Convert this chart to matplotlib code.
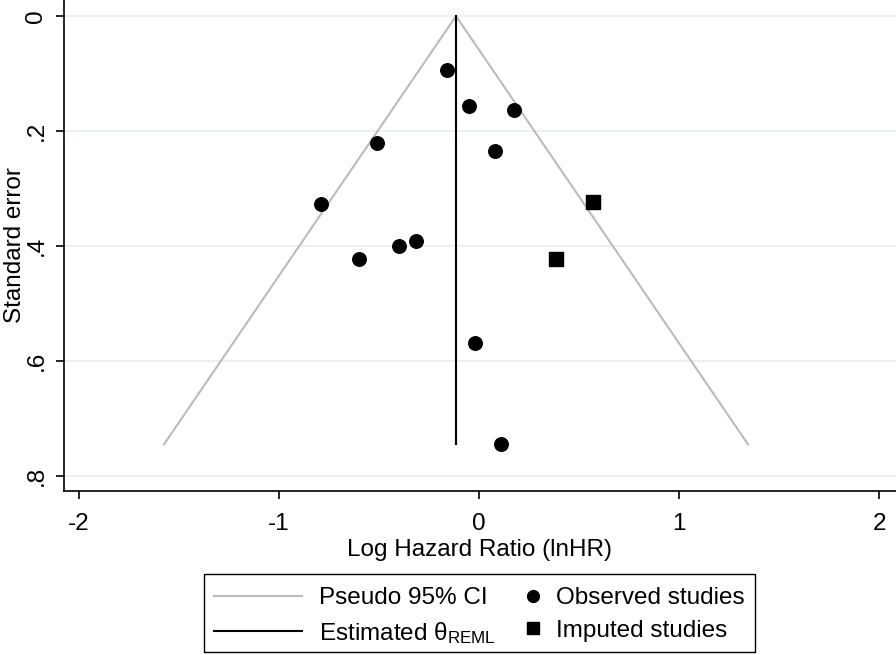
import matplotlib
matplotlib.use("Agg")
import matplotlib.pyplot as plt
from matplotlib.lines import Line2D
from matplotlib.patches import Rectangle
import numpy as np

plt.rcParams["font.family"] = ["Liberation Sans", "DejaVu Sans"]
plt.rcParams["mathtext.fontset"] = "custom"
plt.rcParams["mathtext.rm"] = "Liberation Sans"
plt.rcParams["mathtext.it"] = "Liberation Sans"

# observed studies (lnHR, standard error)
obs_lnhr = [-0.162, -0.05, 0.175, -0.512, 0.078, -0.788, -0.315, -0.40, -0.598, -0.02, 0.11]
obs_se = [0.093, 0.157, 0.163, 0.220, 0.235, 0.326, 0.391, 0.400, 0.422, 0.569, 0.744]

# imputed studies (trim and fill)
imp_lnhr = [0.57, 0.383]
imp_se = [0.3235, 0.422]

theta = -0.115
se_max = 0.745

FS = 17.5
W, H = 896, 655

fig = plt.figure(figsize=(W / 100, H / 100), dpi=100)
ax = fig.add_axes([64 / W, 1 - 491 / H, 1 - 64 / W, 491 / H])

# pseudo 95% CI funnel
se_line = np.array([se_max, 0, se_max])
ci_x = theta + 1.96 * se_line * np.array([-1, 0, 1])
ax.plot(ci_x, se_line, color="#bbbbbb", lw=1.5, zorder=2)
ax.plot([theta, theta], [0, se_max], color="black", lw=1.5, zorder=3)

ax.scatter(obs_lnhr, obs_se, s=95, marker="o", color="black", zorder=4)
ax.scatter(imp_lnhr, imp_se, s=95, marker="s", color="black", zorder=4)

ax.set_xlim(-2.075, 2.085)
ax.set_ylim(0.826, -0.028)
ax.set_xticks([-2, -1, 0, 1, 2])
ax.set_xticklabels(["-2", "-1", "0", "1", "2"])
ax.set_yticks([0, 0.2, 0.4, 0.6, 0.8])
ax.set_yticklabels(["0", ".2", ".4", ".6", ".8"], rotation=90, va="center")
ax.grid(axis="y", color="#e6eff1", lw=1.2, zorder=0)
ax.set_axisbelow(True)

for side in ["top", "right"]:
    ax.spines[side].set_visible(False)
for side in ["left", "bottom"]:
    ax.spines[side].set_linewidth(1.2)
ax.tick_params(labelsize=FS, length=6, width=1.2, direction="out")
ax.tick_params(axis="x", pad=10)
ax.tick_params(axis="y", pad=6)

ax.set_xlabel("Log Hazard Ratio (lnHR)", fontsize=FS)
ax.set_ylabel("Standard error", fontsize=FS)
ax.xaxis.set_label_coords((479 - 64) / (W - 64), (491 - 539) / 491)
ax.yaxis.set_label_coords((26 - 64) / (W - 64), 0.5)

# legend: two columns drawn as two frameless legends inside one box
line_handles = [Line2D([], [], color="#bbbbbb", lw=1.5),
                Line2D([], [], color="black", lw=1.5)]
line_labels = ["Pseudo 95% CI", r"Estimated $\theta_{\rm REML}$"]
mark_handles = [Line2D([], [], marker="o", ls="none", color="black", markersize=8.5),
                Line2D([], [], marker="s", ls="none", color="black", markersize=8)]
mark_labels = ["Observed studies", "Imputed studies"]

top = 1 - 587 / H
fig.legend(line_handles, line_labels, loc="upper left",
           bbox_to_anchor=(214 / W, top), frameon=False, fontsize=FS,
           handlelength=3.6, handletextpad=0.7, borderpad=0, borderaxespad=0,
           labelspacing=0.45)
fig.legend(mark_handles, mark_labels, loc="upper left",
           bbox_to_anchor=(524 / W, top), frameon=False, fontsize=FS,
           handlelength=0.7, handletextpad=0.6, borderpad=0, borderaxespad=0,
           labelspacing=0.45)
fig.add_artist(Rectangle((204 / W, 1 - 652 / H), 551 / W, 78 / H,
                         transform=fig.transFigure, fill=False,
                         edgecolor="black", lw=1.0))

fig.savefig("out.png", dpi=100)
